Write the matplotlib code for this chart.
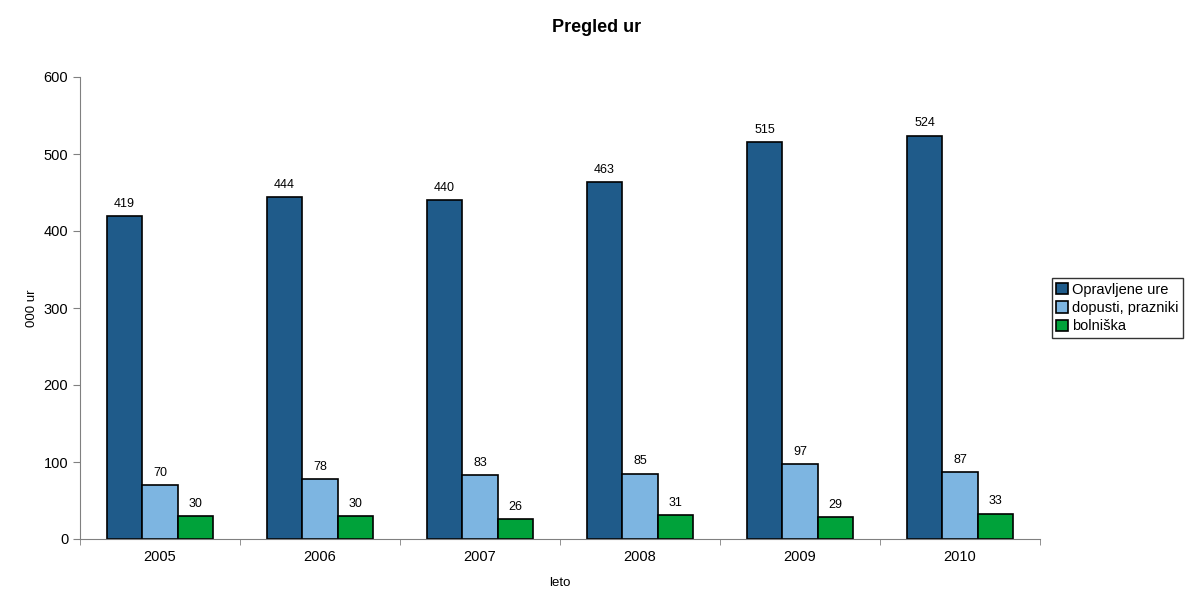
import numpy as np
import matplotlib
matplotlib.use("Agg")
import matplotlib.pyplot as plt

plt.rcParams['font.family'] = ['Liberation Sans', 'DejaVu Sans']

leta = ["2005", "2006", "2007", "2008", "2009", "2010"]
opravljene = [419, 444, 440, 463, 515, 524]
dopusti = [70, 78, 83, 85, 97, 87]
bolniska = [30, 30, 26, 31, 29, 33]

serije = [("Opravljene ure", opravljene, "#1f5b8a"),
          ("dopusti, prazniki", dopusti, "#7db5e1"),
          ("bolniška", bolniska, "#00a23a")]

fig = plt.figure(figsize=(11.93, 5.94), dpi=100)
ax = fig.add_axes([80/1193, 55/594, 960/1193, 462/594])

x = np.arange(len(leta))
w = 0.222
for i, (ime, vrednosti, barva) in enumerate(serije):
    pos = x + (i - 1) * w
    bars = ax.bar(pos, vrednosti, w, color=barva, edgecolor="black", linewidth=1.2, label=ime)
    for b, v in zip(bars, vrednosti):
        ax.text(b.get_x() + b.get_width() / 2, v + 8, str(v), ha="center", va="bottom", fontsize=9)

ax.set_xlim(-0.5, len(leta) - 0.5)
ax.set_ylim(0, 600)
ax.set_yticks(range(0, 601, 100))
ax.set_xticks(x)
ax.set_xticklabels(leta, fontsize=10.5)
ax.set_xticks(np.arange(-0.5, len(leta)), minor=True)
ax.tick_params(axis="x", which="major", length=0, pad=8)
ax.tick_params(axis="x", which="minor", length=4, color="#808080")
ax.tick_params(axis="y", labelsize=10.5, length=5, color="#808080")
for s in ["top", "right"]:
    ax.spines[s].set_visible(False)
for s in ["left", "bottom"]:
    ax.spines[s].set_color("#808080")

ax.set_xlabel("leto", fontsize=9.5, labelpad=9)
ax.set_ylabel("000 ur", fontsize=9.5, labelpad=4)
fig.suptitle("Pregled ur", fontsize=13, fontweight="bold", x=0.5, y=1 - 27/594, va="center")

leg = ax.legend(loc="center left", bbox_to_anchor=(1.0125, 0.5), frameon=True,
                fancybox=False, edgecolor="black", fontsize=10.5, handlelength=0.8, handleheight=0.8,
                handletextpad=0.3, borderpad=0.3, labelspacing=0.3, borderaxespad=0)
leg.get_frame().set_linewidth(1.0)

fig.savefig("out.png", dpi=100)
